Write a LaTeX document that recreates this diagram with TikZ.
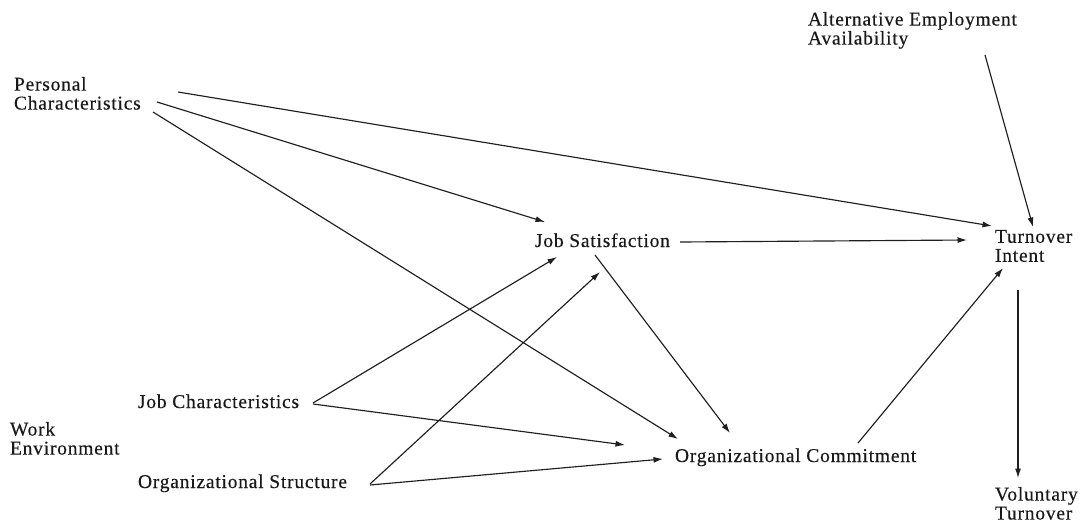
\documentclass[tikz,border=0pt]{standalone}
\usepackage{fontspec}
\setmainfont{Liberation Serif}[LetterSpace=4, FakeBold=0.3]
\usetikzlibrary{arrows.meta}
\tikzset{
  lbl/.style={inner sep=0pt, outer sep=0pt, align=left,
    font=\fontsize{19.5}{19}\selectfont, text=black!90},
  link/.style={draw=black!88, line width=1.15pt,
    -{Latex[length=9.5pt,width=6pt]}}
}
\begin{document}
\begin{tikzpicture}[x=1pt, y=-1pt]
\useasboundingbox[fill=white] (0,0) rectangle (1086,530);

% variables
\node[lbl, anchor=north west] (pc) at (14,77)   {Personal\\Characteristics};
\node[lbl, anchor=north west] (ae) at (808,12)  {Alternative Employment\\Availability};
\node[lbl, anchor=base west]  (js) at (535,247) {Job Satisfaction};
\node[lbl, anchor=north west] (ti) at (995,230) {Turnover\\Intent};
\node[lbl, anchor=base west]  (jc) at (138,408) {Job Characteristics};
\node[lbl, anchor=north west] (we) at (10,422)  {Work\\Environment};
\node[lbl, anchor=base west]  (os) at (138,488) {Organizational Structure};
\node[lbl, anchor=base west]  (oc) at (675,462) {Organizational Commitment};
\node[lbl, anchor=north west] (vt) at (995,487) {Voluntary\\Turnover};

% paths of influence
\draw[link] ([shift={(164,15)}]pc.north west) -- ([shift={(-3,-4)}]ti.north west);
\draw[link] ([shift={(143,25)}]pc.north west) -- ([shift={(10,-25)}]js.base west);
\draw[link] ([shift={(139,35)}]pc.north west) -- ([shift={(3,-23)}]oc.base west);
\draw[link] ([shift={(177,43)}]ae.north west) -- ([shift={(38,-3)}]ti.north west);
\draw[link] ([shift={(145,-5)}]js.base west) -- ([shift={(-28,10)}]ti.north west);
\draw[link] ([shift={(60,8)}]js.base west)   -- ([shift={(55,-29)}]oc.base west);
\draw[link] ([shift={(175,-5)}]jc.base west) -- ([shift={(22,10)}]js.base west);
\draw[link] ([shift={(175,-4)}]jc.base west) -- ([shift={(-50,-17)}]oc.base west);
\draw[link] ([shift={(232,-4)}]os.base west) -- ([shift={(65,25)}]js.base west);
\draw[link] ([shift={(232,-3)}]os.base west) -- ([shift={(-12,-3)}]oc.base west);
\draw[link] ([shift={(183,-19)}]oc.base west) -- ([shift={(8,38)}]ti.north west);
\draw[link] ([shift={(23,60)}]ti.north west) -- ([shift={(23,-9)}]vt.north west);
\end{tikzpicture}
\end{document}
